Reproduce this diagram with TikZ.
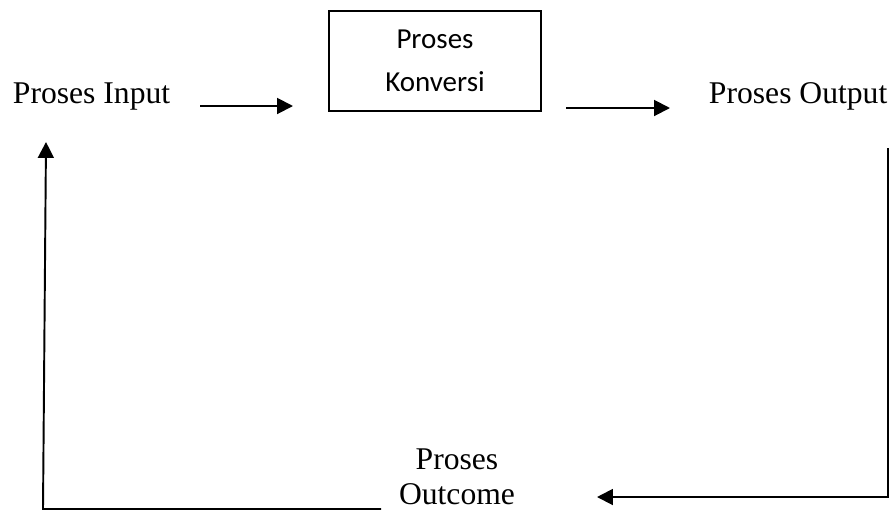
\documentclass[tikz,border=0pt]{standalone}
\usepackage{fontspec}
\setmainfont{Liberation Serif}
\newfontfamily\calibri{Carlito}
\usetikzlibrary{arrows.meta}

\begin{document}
\begin{tikzpicture}[x=0.02cm,y=-0.02cm,>={Triangle[length=9pt,width=9pt]},line width=1.1pt]
    \useasboundingbox (0,0) rectangle (895,511);
    \node[anchor=base west,inner sep=0pt,font=\fontsize{18}{21}\selectfont] (input) at (12,103) {Proses Input};
    \node[draw,line width=0.9pt,minimum width=4.24cm,minimum height=2cm,align=center,font=\calibri\fontsize{16.5}{24.5}\selectfont] (konversi) at (435,61) {Proses\\Konversi};
    \node[anchor=base west,inner sep=0pt,font=\fontsize{18}{21}\selectfont] (output) at (708,103) {Proses Output};
    \node[inner sep=0pt,align=center,font=\fontsize{18}{20}\selectfont] (outcome) at (457,477) {Proses\\Outcome};
    \coordinate (a1) at (200,106);
    \coordinate (a2) at (293,106);
    \coordinate (b1) at (566,108);
    \coordinate (b2) at (670,108);
    \coordinate (c1) at (888,148);
    \coordinate (c2) at (888,497);
    \coordinate (c3) at (597,497);
    \coordinate (d1) at (381,509);
    \coordinate (d2) at (43,509);
    \coordinate (d3) at (46,142);
    \draw[->] (a1) -- (a2);
    \draw[->] (b1) -- (b2);
    \draw[->] (c1) -- (c2) -- (c3);
    \draw[->] (d1) -- (d2) -- (d3);
\end{tikzpicture}
\end{document}
